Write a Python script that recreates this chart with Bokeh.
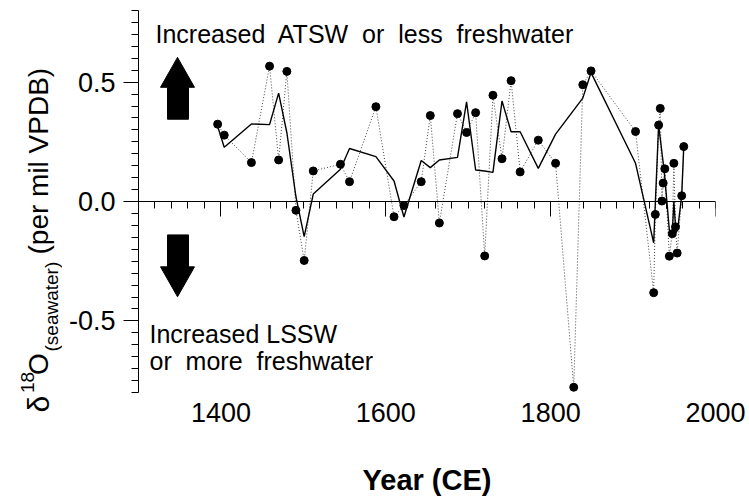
from math import pi
from bokeh.plotting import figure
from bokeh.layouts import row
from bokeh.core.properties import value
from bokeh.models import LinearAxis, FixedTicker, Range1d, Label, PrintfTickFormatter, ColumnDataSource
from bokeh.embed import file_html
from bokeh.resources import INLINE

# ---------------- data ----------------
sample_year = [1396, 1404, 1437, 1459, 1470, 1480, 1491, 1501, 1512, 1545, 1556, 1588,
               1610, 1622, 1643, 1654, 1665, 1687, 1698, 1709, 1720, 1730, 1741, 1752,
               1763, 1785, 1806, 1828, 1839, 1849, 1903, 1925, 1927, 1931, 1933, 1935,
               1936.5, 1938.5, 1944, 1947.5, 1949.5, 1951.5, 1953.5, 1959, 1961.5]
sample_d18o = [0.324, 0.278, 0.163, 0.567, 0.174, 0.545, -0.037, -0.247, 0.128, 0.156, 0.083, 0.397,
               -0.064, -0.017, 0.083, 0.360, -0.090, 0.368, 0.289, 0.372, -0.228, 0.445, 0.179, 0.506,
               0.124, 0.257, 0.160, -0.778, 0.489, 0.547, 0.293, -0.382, -0.054, 0.320, 0.390, 0.002,
               0.077, 0.137, -0.229, -0.135, 0.160, -0.106, -0.216, 0.024, 0.230]

smooth_year = [1396, 1404, 1437, 1459, 1470, 1480, 1491, 1501, 1512, 1545, 1556, 1588,
               1610, 1622, 1643, 1654, 1665, 1687, 1698, 1709, 1720, 1730, 1741, 1752,
               1763, 1785, 1806, 1828, 1839, 1849, 1903, 1925, 1931, 1938, 1944, 1947.5,
               1949.5, 1952, 1954, 1959, 1961.5]
smooth_d18o = [0.315, 0.227, 0.325, 0.322, 0.454, 0.288, 0.020, -0.147, 0.031, 0.135, 0.222, 0.188,
               0.086, -0.065, 0.172, 0.142, 0.174, 0.185, 0.417, 0.132, 0.128, 0.122, 0.421, 0.292,
               0.292, 0.139, 0.282, 0.383, 0.433, 0.540, 0.160, -0.173, 0.320, 0.120, -0.120, -0.140,
               0.000, -0.130, -0.120, 0.025, 0.230]

x_major_ticks = [1400, 1600, 1800, 2000]
x_minor_ticks = list(range(1320, 2001, 20))
y_major_ticks = [-0.5, 0.0, 0.5]
y_minor_ticks = [round(-0.8 + 0.05 * i, 2) for i in range(33)]

x_label = "Year (CE)"
top_note = "Increased\u00a0 ATSW\u00a0 or\u00a0 less\u00a0 freshwater"
bottom_note = ["Increased LSSW", "or\u00a0 more\u00a0 freshwater"]
y_title_parts = ["\u03b4", "18", "O", "(seawater)", "(per mil VPDB)"]

FONT = "Liberation Sans"

# ---------------- layout ----------------
W, H = 749, 498
TW = 62                        # width of the strip holding the y title
L, R, T, B = 138, 34, 10, 105  # frame borders, measured on the whole canvas
X0, X1, Y0, Y1 = 1300, 2000, -0.8, 0.8

def dx(px):  # canvas pixel -> data x
    return X0 + (px - L) * (X1 - X0) / (W - L - R)

def dy(py):  # canvas pixel -> data y
    return Y1 - (py - T) * (Y1 - Y0) / (H - T - B)

p = figure(width=W - TW, height=H, output_backend="svg", toolbar_location=None,
           x_range=Range1d(X0, X1), y_range=Range1d(Y0, Y1),
           min_border_left=L - TW, min_border_right=R, min_border_top=T, min_border_bottom=B,
           background_fill_color="white", border_fill_color="white", outline_line_color=None)
p.grid.visible = False

# y axis
ya = p.yaxis[0]
ya.ticker = FixedTicker(ticks=y_major_ticks, minor_ticks=y_minor_ticks)
ya.formatter = PrintfTickFormatter(format="%.1f")
ya.axis_line_color = "black"
ya.major_tick_line_color = "black"
ya.minor_tick_line_color = "black"
ya.major_tick_out = 15
ya.major_tick_in = 0
ya.minor_tick_out = 7
ya.minor_tick_in = 0
ya.major_label_standoff = 8
ya.major_label_text_font = FONT
ya.major_label_text_font_size = "27px"
ya.major_label_text_color = "black"

# bottom axis: labels only
xa = p.xaxis[0]
xa.ticker = FixedTicker(ticks=x_major_ticks, minor_ticks=[])
xa.axis_line_color = None
xa.major_tick_line_color = None
xa.minor_tick_line_color = None
xa.major_tick_out = 0
xa.major_tick_in = 0
xa.major_label_standoff = 10
xa.major_label_text_font = FONT
xa.major_label_text_font_size = "27px"
xa.major_label_text_color = "black"
xa.axis_label = x_label
xa.axis_label_text_font = FONT
xa.axis_label_text_font_style = "bold"
xa.axis_label_text_font_size = "29px"
xa.axis_label_text_color = "black"
xa.axis_label_standoff = 39

# zero line axis with ticks
za = LinearAxis(fixed_location=0,
                ticker=FixedTicker(ticks=x_major_ticks, minor_ticks=x_minor_ticks),
                axis_line_color="black", major_tick_line_color="black", minor_tick_line_color="black",
                major_tick_out=15, major_tick_in=0, minor_tick_out=7, minor_tick_in=0,
                major_label_text_color=None, major_label_text_font_size="1px")
p.add_layout(za, "below")

# ---------------- data marks ----------------
src = ColumnDataSource(dict(year=sample_year, d18o=sample_d18o))
sm = ColumnDataSource(dict(year=smooth_year, d18o=smooth_d18o))
p.line("year", "d18o", source=src, line_color="#444444", line_width=1, line_dash="1 2")
p.line("year", "d18o", source=sm, line_color="black", line_width=1.4)
p.scatter("year", "d18o", source=src, marker="circle", size=8, fill_color="black", line_color="black")

# ---------------- arrows ----------------
ax_c, head_l, head_r, shaft_l, shaft_r = 177, 160, 194, 167, 188
up_tip, up_head, up_base = 57, 87, 119
dn_top, dn_head, dn_tip = 235, 267, 297
p.patch([dx(v) for v in [ax_c, head_r, shaft_r, shaft_r, shaft_l, shaft_l, head_l]],
        [dy(v) for v in [up_tip, up_head, up_head, up_base, up_base, up_head, up_head]],
        color="black")
p.patch([dx(v) for v in [ax_c, head_r, shaft_r, shaft_r, shaft_l, shaft_l, head_l]],
        [dy(v) for v in [dn_tip, dn_head, dn_head, dn_top, dn_top, dn_head, dn_head]],
        color="black")

# ---------------- notes ----------------
def lab(text, px, py, size):
    p.add_layout(Label(x=dx(px), y=dy(py), text=text, text_font=FONT, text_font_size=size,
                       text_color="black", text_align="left", text_baseline="alphabetic"))

lab(top_note, 155, 34, "25px")
lab(bottom_note[0], 149, 334, "25px")
lab(bottom_note[1], 149, 361, "25px")

# ---------------- y title strip (rotated, with super/subscript) ----------------
# its data units are canvas pixels (x across, y counted up from the canvas bottom)
t = figure(width=TW, height=H, output_backend="svg", toolbar_location=None,
           x_range=Range1d(0, TW), y_range=Range1d(0, H),
           x_axis_type=None, y_axis_type=None, min_border=0,
           background_fill_color="white", border_fill_color="white", outline_line_color=None)
t.grid.visible = False
for fig in (t, p):
    try:
        fig.frame_align = False
    except Exception:
        pass
title_px = [38, 27, 38, 51, 38]            # baseline position across
title_py = [412, 392.5, 374.5, 351, 254]   # start position along (canvas y)
title_sz = ["30px", "19px", "28px", "19px", "28px"]
for txt, px, py, sz in zip(y_title_parts, title_px, title_py, title_sz):
    t.text(x=[px], y=[H - py], text=[txt], angle=pi / 2, text_font=value(FONT),
           text_font_size=value(sz), text_color="black", text_align="left",
           text_baseline="alphabetic")

layout = row(t, p, spacing=0)
open("out.html", "w").write(file_html(layout, INLINE))
